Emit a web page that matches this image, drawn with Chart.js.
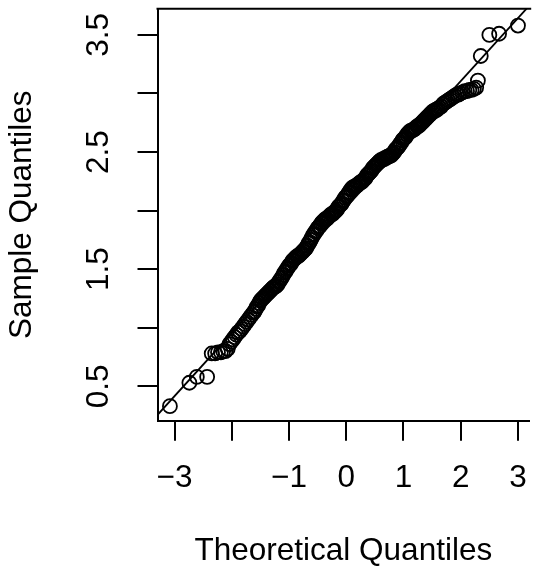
<!DOCTYPE html>
<html><head><meta charset="utf-8">
<script src="https://cdn.jsdelivr.net/npm/chart.js@4.4.0/dist/chart.umd.min.js"></script>
<style>html,body{margin:0;padding:0;background:#fff;}canvas{display:block;}</style>
</head><body>
<canvas id="c" width="538" height="574"></canvas>
<script>
// Theoretical quantiles (x) and sorted sample quantiles (y)
const theoretical = [
 -3.08,-2.74,-2.61,-2.43,-2.35,-2.29,-2.24,-2.19,-2.15,-2.11,-2.07,
 -2.04,-2.01,-1.98,-1.95,-1.92,-1.89,-1.86,-1.83,-1.80,-1.77,-1.74,-1.71,-1.68,-1.65,-1.62,
 -1.60,-1.58,-1.56,-1.54,-1.52,-1.50,-1.48,-1.46,-1.44,-1.42,-1.40,-1.38,-1.36,-1.34,-1.32,
 -1.30,-1.28,-1.26,-1.24,-1.22,-1.20,-1.18,-1.16,-1.14,-1.12,-1.10,-1.08,-1.06,-1.04,-1.02,
 -1.00,-0.98,-0.96,-0.94,-0.92,-0.90,-0.88,-0.86,-0.84,-0.82,-0.80,-0.78,-0.76,-0.74,-0.72,
 -0.70,-0.68,-0.66,-0.64,-0.62,-0.60,-0.58,-0.56,-0.54,-0.52,-0.50,-0.48,-0.46,-0.44,-0.42,
 -0.40,-0.38,-0.36,-0.34,-0.32,-0.30,-0.28,-0.26,-0.24,-0.22,-0.20,-0.18,-0.16,-0.14,-0.12,
 -0.10,-0.08,-0.06,-0.04,-0.02,0.00,0.02,0.04,0.06,0.08,0.10,0.12,0.14,0.16,0.18,
 0.20,0.22,0.24,0.26,0.28,0.30,0.32,0.34,0.36,0.38,0.40,0.42,0.44,0.46,0.48,
 0.50,0.52,0.54,0.56,0.58,0.60,0.62,0.64,0.66,0.68,0.70,0.72,0.74,0.76,0.78,
 0.80,0.82,0.84,0.86,0.88,0.90,0.92,0.94,0.96,0.98,1.00,1.02,1.04,1.06,1.08,
 1.10,1.12,1.14,1.16,1.18,1.20,1.22,1.24,1.26,1.28,1.30,1.32,1.34,1.36,1.38,
 1.40,1.42,1.44,1.46,1.48,1.50,1.52,1.54,1.56,1.58,1.60,
 1.63,1.66,1.69,1.72,1.75,1.78,1.81,1.84,1.87,1.90,1.93,1.96,1.99,
 2.03,2.07,2.11,2.15,2.19,2.23,2.27,
 2.30,2.35,2.50,2.67,3.00
];
const sample = [
 0.33,0.53,0.58,0.58,0.78,0.78,0.79,0.79,0.80,0.80,0.82,
 0.86,0.88,0.90,0.92,0.94,0.96,0.97,0.99,1.01,1.03,1.05,1.07,1.09,1.11,1.13,
 1.14,1.16,1.18,1.19,1.21,1.23,1.24,1.25,1.26,1.27,1.28,1.29,1.30,1.31,1.32,
 1.33,1.34,1.35,1.35,1.36,1.37,1.39,1.40,1.42,1.43,1.45,1.47,1.48,1.50,1.51,
 1.53,1.54,1.55,1.57,1.58,1.59,1.60,1.61,1.61,1.62,1.63,1.64,1.65,1.66,1.67,
 1.68,1.70,1.72,1.73,1.75,1.77,1.79,1.80,1.82,1.83,1.85,1.86,1.87,1.89,1.90,
 1.91,1.92,1.93,1.93,1.94,1.95,1.96,1.97,1.97,1.98,1.99,2.00,2.01,2.03,2.04,
 2.05,2.06,2.08,2.09,2.11,2.12,2.13,2.15,2.16,2.18,2.19,2.20,2.20,2.21,2.21,
 2.22,2.23,2.24,2.24,2.25,2.26,2.27,2.28,2.30,2.31,2.32,2.33,2.34,2.36,2.37,
 2.38,2.39,2.40,2.41,2.42,2.43,2.43,2.44,2.44,2.45,2.45,2.46,2.46,2.47,2.47,
 2.48,2.49,2.50,2.52,2.53,2.54,2.55,2.57,2.58,2.60,2.61,2.62,2.63,2.65,2.66,
 2.67,2.68,2.68,2.69,2.69,2.70,2.71,2.72,2.72,2.73,2.74,2.75,2.76,2.77,2.78,
 2.79,2.80,2.81,2.82,2.83,2.84,2.85,2.85,2.86,2.86,2.87,
 2.88,2.89,2.91,2.92,2.93,2.94,2.95,2.96,2.97,2.98,2.99,2.99,3.00,
 3.01,3.02,3.02,3.03,3.03,3.04,3.05,
 3.11,3.32,3.50,3.51,3.58
];
// Reference line (qqline) end points
const lineX = [-3.30, 3.30];
const lineY = [0.254, 3.805];
// Axes
const xTicks = [-3, -2, -1, 0, 1, 2, 3];
const xTickLabels = ['\u22123', '', '\u22121', '0', '1', '2', '3'];
const yTicks = [0.5, 1, 1.5, 2, 2.5, 3, 3.5];
const yTickLabels = ['0.5', '', '1.5', '', '2.5', '', '3.5'];
const xRange = [-3.297, 3.196];
const yRange = [0.206, 3.723];
const xTitle = 'Theoretical Quantiles';
const yTitle = 'Sample Quantiles';

const FONT = {family: "'Liberation Sans', Arial, Helvetica, sans-serif", size: 31.5, lineHeight: 1.2};

const points = theoretical.map((x, i) => ({x: x, y: sample[i]}));
const linePts = lineX.map((x, i) => ({x: x, y: lineY[i]}));

const frame = {
  id: 'frame',
  afterDraw(chart) {
    const {ctx, chartArea: a} = chart;
    ctx.save();
    ctx.strokeStyle = '#000';
    ctx.lineWidth = 2;
    ctx.beginPath();
    ctx.moveTo(a.left - 1, a.top);
    ctx.lineTo(a.right + 2, a.top);
    ctx.stroke();
    ctx.restore();
  }
};

new Chart(document.getElementById('c'), {
  type: 'scatter',
  data: {
    datasets: [
      {
        type: 'line', data: linePts, borderColor: '#000', borderWidth: 1.8,
        pointRadius: 0, fill: false, showLine: true, clip: 0, tension: 0
      },
      {
        data: points, pointRadius: 7, pointBorderWidth: 1.8,
        pointBorderColor: '#000', pointBackgroundColor: 'rgba(0,0,0,0)',
        pointHoverRadius: 7
      }
    ]
  },
  options: {
    responsive: false, animation: false, devicePixelRatio: 1,
    layout: {padding: {left: 0, top: 6, right: 0, bottom: 0}},
    plugins: {legend: {display: false}, tooltip: {enabled: false}},
    events: [],
    scales: {
      x: {
        type: 'linear', position: 'bottom', min: xRange[0], max: xRange[1],
        afterBuildTicks: s => { s.ticks = xTicks.map(v => ({value: v})); },
        afterFit: s => { s.height = 153.3; s.paddingLeft = 0; s.paddingRight = 0; },
        ticks: {
          autoSkip: false, maxRotation: 0, minRotation: 0, padding: 18.5,
          color: '#000', font: FONT,
          callback: (v, i) => xTickLabels[i]
        },
        grid: {display: true, drawOnChartArea: false, drawTicks: true, tickLength: 20,
               tickWidth: 2, tickColor: '#000', color: '#000', lineWidth: 2},
        border: {display: true, color: '#000', width: 2},
        title: {display: true, text: xTitle, color: '#000', font: FONT, padding: {top: 0, bottom: 4}}
      },
      y: {
        type: 'linear', position: 'left', min: yRange[0], max: yRange[1],
        afterBuildTicks: s => { s.ticks = yTicks.map(v => ({value: v})); },
        afterFit: s => { s.width = 157.5; s.paddingTop = 0; s.paddingBottom = 0; },
        ticks: {
          autoSkip: false, minRotation: 90, maxRotation: 90, crossAlign: 'center', padding: 16,
          color: '#000', font: FONT,
          callback: (v, i) => yTickLabels[i]
        },
        grid: {display: true, drawOnChartArea: false, drawTicks: true, tickLength: 20,
               tickWidth: 2, tickColor: '#000', color: '#000', lineWidth: 2},
        border: {display: true, color: '#000', width: 2},
        title: {display: true, text: yTitle, color: '#000', font: FONT, padding: {top: 3.7, bottom: 0}}
      }
    }
  },
  plugins: [frame]
});
</script>
</body></html>
